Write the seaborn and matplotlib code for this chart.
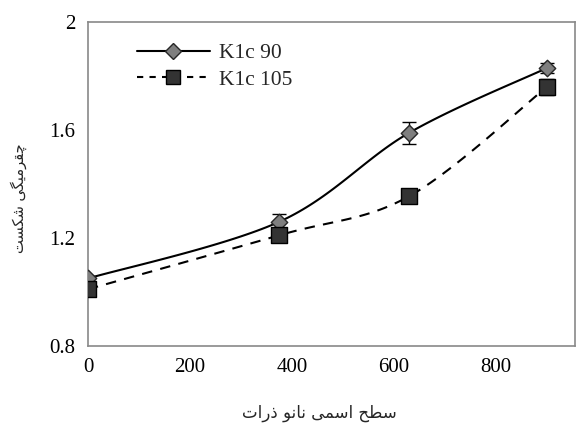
import numpy as np
import matplotlib
matplotlib.use("Agg")
import matplotlib.pyplot as plt
import seaborn as sns
import pandas as pd
from matplotlib.lines import Line2D

# ---- data ----
x_vals = [0, 375, 630, 900]
k90 = [1.05, 1.26, 1.59, 1.83]
k90_err = [0.01, 0.03, 0.04, 0.02]
k105 = [1.01, 1.21, 1.355, 1.76]
k105_err = [0.01, 0.01, 0.02, 0.03]
series_names = ["K1c 90", "K1c 105"]
x_ticks = [0, 200, 400, 600, 800]
y_ticks = [0.8, 1.2, 1.6, 2.0]
y_tick_labels = ["0.8", "1.2", "1.6", "2"]

# Persian labels in presentation forms (logical order), reversed for display
ylabel_logical = "\uFB7C\uFED8\uFEAE\uFEE3\uFBFF\uFB95\uFBFD \uFEB7\uFB91\uFEB4\uFE96"
xlabel_logical = ("\uFEB3\uFEC4\uFEA2 \uFE8D\uFEB3\uFEE4\uFBFD "
                  "\uFEE7\uFE8E\uFEE7\uFEEE \uFEAB\uFEAD\uFE8D\uFE95")
ylabel_text = ylabel_logical[::-1]
xlabel_text = xlabel_logical[::-1]

sns.set_theme(style="white")
plt.rcParams['font.family'] = ['Liberation Serif', 'DejaVu Sans']


def smooth(xs, ys, n=40):
    # Excel-like smoothed curve (Catmull-Rom / cubic Bezier)
    pts = np.column_stack([xs, ys]).astype(float)
    out = [pts[0]]
    for i in range(len(pts) - 1):
        p0 = pts[i - 1] if i > 0 else pts[i]
        p1 = pts[i]
        p2 = pts[i + 1]
        p3 = pts[i + 2] if i + 2 < len(pts) else pts[i + 1]
        c1 = p1 + (p2 - p0) / 6.0
        c2 = p2 - (p3 - p1) / 6.0
        t = np.linspace(0, 1, n)[1:, None]
        seg = ((1 - t) ** 3) * p1 + 3 * ((1 - t) ** 2) * t * c1 + 3 * (1 - t) * t ** 2 * c2 + t ** 3 * p2
        out.extend(seg)
    out = np.array(out)
    return out[:, 0], out[:, 1]


fig = plt.figure(figsize=(5.77, 4.34), dpi=100)
ax = fig.add_axes([0.1525, 0.203, 0.8440, 0.746])

gray = "#898989"

# smooth lines
sx, sy = smooth(x_vals, k90)
sns.lineplot(x=sx, y=sy, ax=ax, color="black", lw=1.5, sort=False, estimator=None)
sx2, sy2 = smooth(x_vals, k105)
sns.lineplot(x=sx2, y=sy2, ax=ax, color="black", lw=1.5, sort=False, estimator=None,
             linestyle=(0, (5, 4)))

# error bars
ax.errorbar(x_vals, k90, yerr=k90_err, fmt="none", ecolor="black", elinewidth=1, capsize=5, zorder=3)
ax.errorbar(x_vals, k105, yerr=k105_err, fmt="none", ecolor="black", elinewidth=1, capsize=5, zorder=3)

# markers
df = pd.DataFrame({"x": x_vals + x_vals, "y": k90 + k105,
                   "s": [series_names[0]] * 4 + [series_names[1]] * 4})
sns.scatterplot(data=df[df.s == series_names[0]], x="x", y="y", ax=ax, marker="D", s=70,
                color="#7f7f7f", edgecolor="#262626", linewidth=1, zorder=4, legend=False)
sns.scatterplot(data=df[df.s == series_names[1]], x="x", y="y", ax=ax, marker="s", s=120,
                color="#333333", edgecolor="black", linewidth=1, zorder=4, legend=False)

# legend
h1 = Line2D([], [], color="black", lw=1.5, marker="D", markersize=8,
            markerfacecolor="#7f7f7f", markeredgecolor="#262626")
h2 = Line2D([], [], color="black", lw=1.5, linestyle=(0, (3, 3)), marker="s", markersize=10,
            markerfacecolor="#333333", markeredgecolor="black")
leg = ax.legend([h1, h2], series_names, loc="upper left", bbox_to_anchor=(0.06, 0.995),
                frameon=False, fontsize=15.5, handlelength=3.4, handletextpad=0.45,
                labelspacing=0.3)

ax.set_xlim(0, 955)
ax.set_ylim(0.8, 2.0)
ax.set_xticks(x_ticks)
ax.set_yticks(y_ticks)
ax.set_yticklabels(y_tick_labels)
ax.tick_params(axis="both", labelsize=15, colors=gray, labelcolor="black",
               direction="out", length=5, width=1, pad=4)
ax.tick_params(axis="x", length=4, pad=5)
for sp in ax.spines.values():
    sp.set_color(gray)
    sp.set_linewidth(1.2)

ax.set_xlabel(xlabel_text, family="DejaVu Sans", fontsize=12)
ax.set_ylabel(ylabel_text, family="DejaVu Sans", fontsize=10.5)
ax.yaxis.set_label_coords(-0.125, 0.457)
ax.xaxis.set_label_coords(0.476, -0.178)

fig.savefig("out.png", dpi=100)
